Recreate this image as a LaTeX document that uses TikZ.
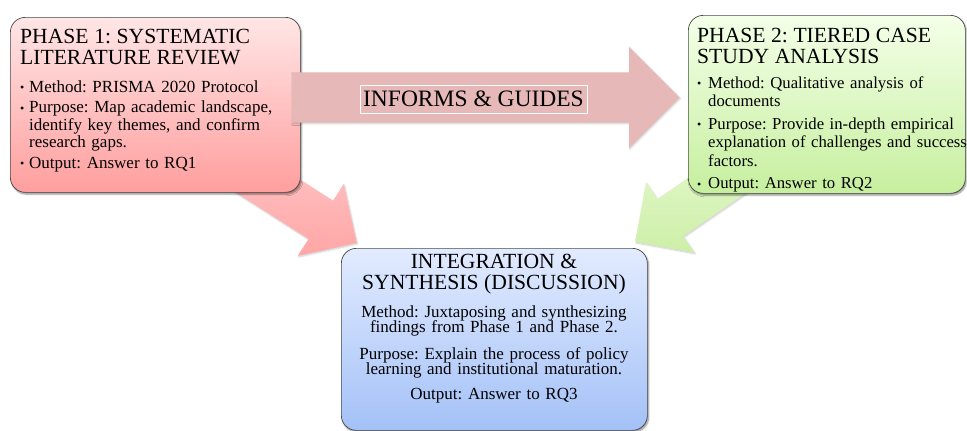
\documentclass[tikz,border=0pt]{standalone}
\usepackage{fontspec}
\setmainfont{Liberation Serif}
\usetikzlibrary{shapes.arrows,shadows,shadows.blur}

% fills
\definecolor{redtop}{HTML}{FFE6E6}
\definecolor{redbot}{HTML}{FF9E9E}
\definecolor{greentop}{HTML}{F4FFE8}
\definecolor{greenbot}{HTML}{C6EF9E}
\definecolor{bluetop}{HTML}{E2EBFF}
\definecolor{bluebot}{HTML}{A3C1F7}
\definecolor{informfill}{HTML}{E6B9B8}
\definecolor{pinkupper}{HTML}{FFCBCB}
\definecolor{pinklower}{HTML}{FFA6A6}
\definecolor{greenupper}{HTML}{E9FAD3}
\definecolor{greenlower}{HTML}{CDEFA8}
\definecolor{edgegray}{HTML}{4A4A4A}

% type
\newcommand\titlefont{\fontsize{21.6}{21}\selectfont}
\newcommand\bodyA{\frenchspacing\fontsize{17}{17.5}\selectfont\lineskiplimit=-20pt}
\newcommand\bodyB{\frenchspacing\fontsize{16.7}{18.5}\selectfont\lineskiplimit=-20pt}
\newcommand\bodyC{\frenchspacing\fontsize{17}{15}\selectfont\lineskiplimit=-20pt}

% bulleted paragraph with hanging indent (\bw = indent, \bgap = space above)
\newcommand\bw{9pt}
\newcommand\bgap{3pt}
\newcommand\bitem{\par\vspace{\bgap}\noindent\hangindent=\bw\hangafter=1\relax
  \makebox[\bw][l]{\raisebox{0.5pt}{\fontsize{12}{12}\selectfont\textbullet}}}

\tikzset{
  phasebox/.style={draw=edgegray, line width=0.7pt, rounded corners=15pt,
    inner sep=0pt, anchor=north west,
    blur shadow={shadow xshift=1.2pt, shadow yshift=-1.8pt,
      shadow opacity=45, shadow blur radius=1.6pt, shadow blur steps=6}},
  blockarrow/.style={single arrow, inner xsep=0pt, anchor=tip,
    minimum width=0pt,
    blur shadow={shadow xshift=0.8pt, shadow yshift=-1.2pt,
      shadow opacity=20, shadow blur radius=1.5pt, shadow blur steps=5}},
  boxtext/.style={anchor=north west, inner sep=0pt, align=left}
}

\begin{document}
\begin{tikzpicture}[x=1pt,y=-1pt]
\useasboundingbox (0,0) rectangle (967,431);

% diagonal feeds into the synthesis box (behind the boxes)
\node[blockarrow, top color=pinkupper, bottom color=pinklower,
  rotate=-32.6, minimum height=180pt, inner ysep=22.5pt,
  single arrow head extend=20pt] (feedlit) at (357,243) {};
\node[blockarrow, top color=greenupper, bottom color=greenlower,
  rotate=214.6, minimum height=170pt, inner ysep=22.5pt,
  single arrow head extend=20pt] (feedcase) at (635,242) {};

% the three phase boxes
\node[phasebox, top color=redtop, bottom color=redbot,
  minimum width=290pt, minimum height=175pt] (lit) at (10,17) {};
\node[phasebox, top color=greentop, bottom color=greenbot,
  minimum width=277pt, minimum height=178pt] (case) at (688,15) {};
\node[phasebox, top color=bluetop, bottom color=bluebot,
  minimum width=306pt, minimum height=182pt] (synth) at (341,248) {};

% horizontal arrow from phase 1 to phase 2
\node[blockarrow, fill=informfill, minimum height=388pt, inner ysep=25pt,
  single arrow head extend=25.5pt] (informs) at (680,97.5) {};
\node[draw=white, line width=0.7pt, fill=informfill, inner sep=0pt,
  minimum width=227pt, minimum height=28pt,
  font=\fontsize{23.5}{24}\selectfont] (informslabel) at (473.5,99)
  {INFORMS \& GUIDES};

% phase 1 text
\node[boxtext, text width=285pt, font=\bodyA] (littext) at (20,28.6) {%
  {\titlefont PHASE 1: SYSTEMATIC\\LITERATURE REVIEW\par}\vspace{7.5pt}%
  \bitem Method: PRISMA 2020 Protocol
  \bitem Purpose: Map academic landscape,\newline identify key themes, and confirm\newline research gaps.
  \bitem Output: Answer to RQ1\par};

% phase 2 text
\node[boxtext, text width=290pt, font=\bodyB] (casetext) at (697,27.7) {%
  \renewcommand\bw{11pt}\renewcommand\bgap{4pt}%
  {\titlefont PHASE 2: TIERED CASE\\STUDY ANALYSIS\par}\vspace{2.5pt}%
  \bitem Method: Qualitative analysis of\newline documents
  \bitem Purpose: Provide in-depth empirical\newline explanation of challenges and success\newline factors.
  \bitem Output: Answer to RQ2\par};

% synthesis text
\node[anchor=north, inner sep=0pt, text width=306pt, align=center, font=\bodyC]
  (synthtext) at (494,253.7) {%
  {\titlefont INTEGRATION \&\\SYNTHESIS (DISCUSSION)\par}\vspace{13pt}%
  Method: Juxtaposing and synthesizing\\findings from Phase 1 and Phase 2.\\[12pt]
  Purpose: Explain the process of policy\\learning and institutional maturation.\\[10pt]
  Output: Answer to RQ3\par};
\end{tikzpicture}
\end{document}
